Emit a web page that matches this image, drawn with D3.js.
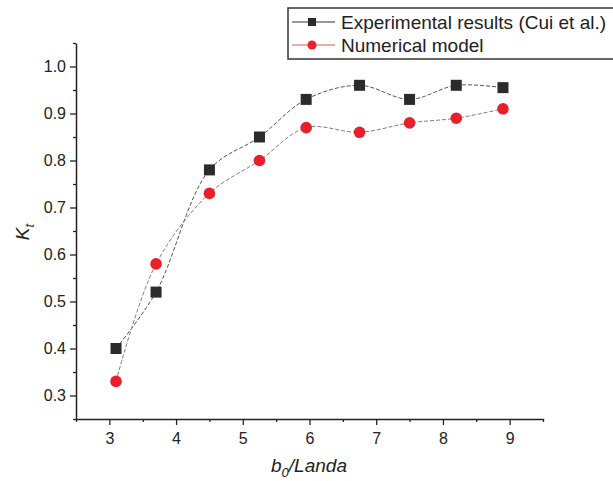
<!DOCTYPE html>
<html>
<head>
<meta charset="utf-8">
<script src="https://cdn.jsdelivr.net/npm/d3@7"></script>
<style>
  body { margin: 0; background: #fff; }
  text { font-family: "Liberation Sans", Arial, sans-serif; fill: #222; }
</style>
</head>
<body>
<script>
// data
var xValues = [3.1, 3.7, 4.5, 5.25, 5.95, 6.75, 7.5, 8.2, 8.9];
var experimental = [0.40, 0.52, 0.78, 0.85, 0.93, 0.96, 0.93, 0.96, 0.955];
var numerical = [0.33, 0.58, 0.73, 0.80, 0.87, 0.86, 0.88, 0.89, 0.91];
var xTicks = [3, 4, 5, 6, 7, 8, 9];
var yTicks = [0.3, 0.4, 0.5, 0.6, 0.7, 0.8, 0.9, 1.0];
var seriesNames = ["Experimental results (Cui et al.)", "Numerical model"];

var svgWidth = 613;
var svgHeight = 481;
var margin = { top: 43, right: 70, bottom: 62, left: 76 };
var width = svgWidth - margin.left - margin.right;
var height = svgHeight - margin.top - margin.bottom;

var svg = d3.select("body").append("svg")
  .attr("width", svgWidth)
  .attr("height", svgHeight);

var chartGroup = svg.append("g")
  .attr("transform", `translate(${margin.left}, ${margin.top})`);

var xScale = d3.scaleLinear().domain([2.5, 9.5]).range([0, width]);
var yScale = d3.scaleLinear().domain([0.25, 1.05]).range([height, 0]);

// minor ticks first
var xMinor = d3.range(2.5, 9.51, 0.5).filter(v => Math.abs(v % 1) > 0.01);
var yMinor = d3.range(0.25, 1.051, 0.05).filter(v => Math.abs(Math.round(v * 10) - v * 10) > 0.01);

chartGroup.append("g")
  .attr("transform", `translate(0, ${height})`)
  .call(d3.axisBottom(xScale).tickValues(xMinor).tickSize(3).tickFormat(""))
  .call(g => g.select(".domain").remove());
chartGroup.append("g")
  .call(d3.axisLeft(yScale).tickValues(yMinor).tickSize(3).tickFormat(""))
  .call(g => g.select(".domain").remove());

var xAxis = chartGroup.append("g")
  .attr("transform", `translate(0, ${height})`)
  .call(d3.axisBottom(xScale).tickValues(xTicks).tickSize(6).tickPadding(8).tickSizeOuter(0).tickFormat(d3.format("d")));

var yAxis = chartGroup.append("g")
  .call(d3.axisLeft(yScale).tickValues(yTicks).tickSize(6).tickPadding(4).tickSizeOuter(0).tickFormat(d3.format(".1f")));

svg.selectAll(".tick line").attr("stroke", "#222").attr("stroke-width", 1.3);
svg.selectAll(".domain").attr("stroke", "#222").attr("stroke-width", 1.5);
svg.selectAll(".tick text").attr("font-size", "16px").attr("fill", "#333")
  .attr("font-family", "Liberation Sans, Arial, sans-serif");

// curves
var lineExp = d3.line()
  .x((d, i) => xScale(xValues[i]))
  .y(d => yScale(d))
  .curve(d3.curveCatmullRom.alpha(0.5));

chartGroup.append("path")
  .datum(experimental)
  .attr("d", lineExp)
  .attr("fill", "none")
  .attr("stroke", "#555")
  .attr("stroke-width", 1)
  .attr("stroke-dasharray", "4,2");

chartGroup.append("path")
  .datum(numerical)
  .attr("d", lineExp)
  .attr("fill", "none")
  .attr("stroke", "#8a7a7a")
  .attr("stroke-width", 1)
  .attr("stroke-dasharray", "4,2");

chartGroup.selectAll(".sq")
  .data(experimental)
  .enter()
  .append("rect")
  .attr("x", (d, i) => xScale(xValues[i]) - 5.5)
  .attr("y", d => yScale(d) - 5.5)
  .attr("width", 11)
  .attr("height", 11)
  .attr("fill", "#2b2b2b");

chartGroup.selectAll(".dot")
  .data(numerical)
  .enter()
  .append("circle")
  .attr("cx", (d, i) => xScale(xValues[i]))
  .attr("cy", d => yScale(d))
  .attr("r", 5.8)
  .attr("fill", "#e8202a");

// axis titles
var yTitle = svg.append("text")
  .attr("transform", "translate(29, 232) rotate(-90)")
  .attr("text-anchor", "middle")
  .attr("font-size", "19px")
  .attr("font-style", "italic");
yTitle.append("tspan").text("K");
yTitle.append("tspan").attr("dy", 5).attr("font-size", "13px").text("t");

var xTitle = svg.append("text")
  .attr("x", 309)
  .attr("y", 472)
  .attr("text-anchor", "middle")
  .attr("font-size", "19px")
  .attr("font-style", "italic");
xTitle.append("tspan").text("b");
xTitle.append("tspan").attr("dy", 5).attr("font-size", "13px").text("0");
xTitle.append("tspan").attr("dy", -5).text("/Landa");

// legend
var legend = svg.append("g");
legend.append("rect")
  .attr("x", 288).attr("y", 8)
  .attr("width", 340).attr("height", 51)
  .attr("fill", "#fff")
  .attr("stroke", "#333")
  .attr("stroke-width", 1.5);

var legendRows = [
  { name: seriesNames[0], line: "#333", y: 22 },
  { name: seriesNames[1], line: "#e25555", y: 45 }
];
legendRows.forEach(function(row, i) {
  legend.append("line")
    .attr("x1", 292).attr("x2", 335)
    .attr("y1", row.y).attr("y2", row.y)
    .attr("stroke", row.line)
    .attr("stroke-width", 1);
  if (i === 0) {
    legend.append("rect")
      .attr("x", 308).attr("y", row.y - 4)
      .attr("width", 8).attr("height", 8)
      .attr("fill", "#2b2b2b");
  } else {
    legend.append("circle")
      .attr("cx", 312).attr("cy", row.y)
      .attr("r", 4.5)
      .attr("fill", "#e8202a");
  }
  legend.append("text")
    .attr("x", 341).attr("y", row.y + 7)
    .attr("font-size", "19px")
    .text(row.name);
});
</script>
</body>
</html>
